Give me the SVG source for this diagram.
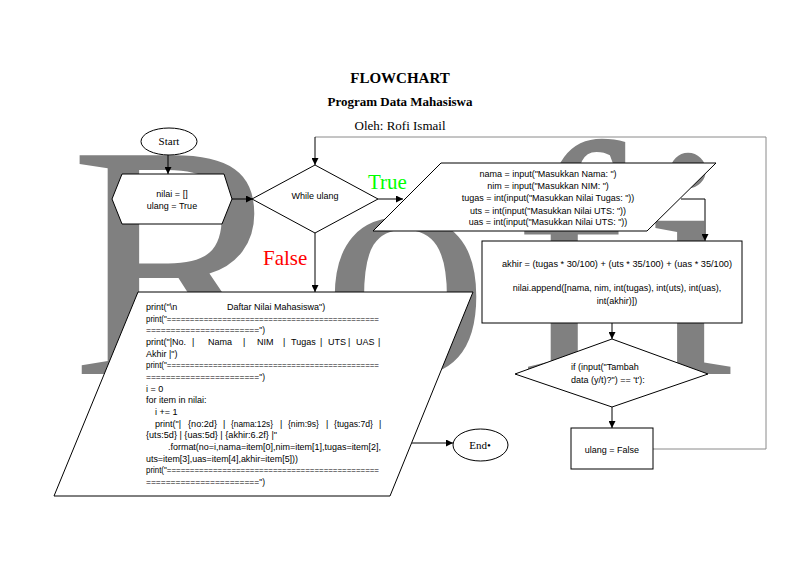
<svg xmlns="http://www.w3.org/2000/svg" width="800" height="566" viewBox="0 0 800 566">
<defs>
<marker id="arr" viewBox="0 0 10 10" refX="10" refY="5" markerWidth="7" markerHeight="7" markerUnits="userSpaceOnUse" orient="auto">
<path d="M0,0 L10,5 L0,10 z" fill="#000"/>
</marker>
<style>
.shape{fill:#fff;stroke:#000;stroke-width:1}
.code{font-family:"Liberation Sans",Arial,sans-serif;font-size:9px;fill:#000}
.mid{text-anchor:middle}
.serif{font-family:"Liberation Serif","Times New Roman",serif;fill:#000}
.conn{fill:none;stroke:#000;stroke-width:1}
.loop{fill:none;stroke:#8a8a8a;stroke-width:1}
</style>
</defs>
<rect width="800" height="566" fill="#fff"/>
<g id="watermark">
<text x="70 322 514 644" y="374" font-family="'Liberation Serif','Times New Roman',serif" font-size="334" fill="#808080">Rofi</text>
</g>
<g id="title">
<text class="serif mid" x="400" y="83" font-size="15" font-weight="bold">FLOWCHART</text>
<text class="serif mid" x="400" y="106" font-size="13" font-weight="bold">Program Data Mahasiswa</text>
<text class="serif mid" x="400" y="130" font-size="13">Oleh: Rofi Ismail</text>
</g>
<g id="connectors">
<path class="conn" d="M168,155 L168,174" marker-end="url(#arr)"/>
<path class="conn" d="M232,199 L253,199" marker-end="url(#arr)"/>
<path class="conn" d="M378,199 L403,199" marker-end="url(#arr)"/>
<path class="conn" d="M315,233 L315,292" marker-end="url(#arr)"/>
<path class="conn" d="M681,199 L705,199 L705,241" marker-end="url(#arr)"/>
<path class="conn" d="M612,323 L612,339" marker-end="url(#arr)"/>
<path class="conn" d="M612,407 L612,428" marker-end="url(#arr)"/>
<path class="conn" d="M412,443 L453,443" marker-end="url(#arr)"/>
<path class="loop" d="M653,449 L766,449 L766,137 L315,137"/>
<path class="conn" d="M315,137 L315,165" marker-end="url(#arr)"/>
<text x="368" y="189" font-family="'Liberation Serif','Times New Roman',serif" font-size="21" fill="#00ff00">True</text>
<text x="263" y="265" font-family="'Liberation Serif','Times New Roman',serif" font-size="21" fill="#ff0000">False</text>
</g>
<g id="start">
<ellipse class="shape" cx="169" cy="141.5" rx="28" ry="13.5"/>
<text class="serif mid" x="169" y="145" font-size="11">Start</text>
</g>
<g id="init">
<polygon class="shape" points="112,199 122,174 224,174 232,199 222,224 122,224"/>
<text class="code mid" x="172" y="197">nilai = []</text>
<text class="code mid" x="172" y="209">ulang = True</text>
</g>
<g id="while">
<polygon class="shape" points="252,199 315,165 378,199 315,233"/>
<text class="code mid" x="315" y="199">While ulang</text>
</g>
<g id="input">
<polygon class="shape" points="441,163 716,163 647,231 373,231"/>
<text class="code mid" x="548" y="177">nama = input("Masukkan Nama: ")</text>
<text class="code mid" x="548" y="189">nim = input("Masukkan NIM: ")</text>
<text class="code mid" x="548" y="201">tugas = int(input("Masukkan Nilai Tugas: "))</text>
<text class="code mid" x="548" y="214">uts = int(input("Masukkan Nilai UTS: "))</text>
<text class="code mid" x="548" y="225">uas = int(input("Masukkan Nilai UTS: "))</text>
</g>
<g id="process">
<rect class="shape" x="482" y="241" width="260" height="82"/>
<text class="code mid" x="617" y="267" textLength="230" lengthAdjust="spacingAndGlyphs">akhir = (tugas * 30/100) + (uts * 35/100) + (uas * 35/100)</text>
<text class="code mid" x="617" y="291">nilai.append([nama, nim, int(tugas), int(uts), int(uas),</text>
<text class="code mid" x="617" y="304">int(akhir)])</text>
</g>
<g id="decision">
<polygon class="shape" points="515,374 612,339 708,374 612,407"/>
<text class="code" x="571" y="370">if (input("Tambah</text>
<text class="code" x="571" y="383">data (y/t)?") == 't'):</text>
</g>
<g id="stop-loop">
<rect class="shape" x="571" y="428" width="82" height="41"/>
<text class="code mid" x="612" y="453">ulang = False</text>
</g>
<g id="output">
<polygon class="shape" points="138,292 473,292 390,496 54,496"/>
<g class="code">
<text x="146" y="310">print("\n</text>
<text x="227" y="310">Daftar Nilai Mahasiswa")</text>
<text x="146" y="321.7" textLength="233" lengthAdjust="spacingAndGlyphs">print("==============================================</text>
<text x="146" y="333.3" textLength="119" lengthAdjust="spacingAndGlyphs">=======================")</text>
<text y="345"><tspan x="146">print("|No.</tspan><tspan x="192">|</tspan><tspan x="208">Nama</tspan><tspan x="243">|</tspan><tspan x="257">NIM</tspan><tspan x="283">|</tspan><tspan x="291">Tugas</tspan><tspan x="320">|</tspan><tspan x="328">UTS</tspan><tspan x="348">|</tspan><tspan x="356">UAS</tspan><tspan x="378">|</tspan></text>
<text x="146" y="356.7">Akhir |")</text>
<text x="146" y="368.3" textLength="233" lengthAdjust="spacingAndGlyphs">print("==============================================</text>
<text x="146" y="380" textLength="119" lengthAdjust="spacingAndGlyphs">=======================")</text>
<text x="146" y="391.7">i = 0</text>
<text x="146" y="403.3">for item in nilai:</text>
<text x="155" y="415">i += 1</text>
<text y="426.7"><tspan x="155">print("|</tspan><tspan x="188" textLength="29" lengthAdjust="spacingAndGlyphs">{no:2d}</tspan><tspan x="223">|</tspan><tspan x="231" textLength="42" lengthAdjust="spacingAndGlyphs">{nama:12s}</tspan><tspan x="280">|</tspan><tspan x="288" textLength="31" lengthAdjust="spacingAndGlyphs">{nim:9s}</tspan><tspan x="326">|</tspan><tspan x="334" textLength="39" lengthAdjust="spacingAndGlyphs">{tugas:7d}</tspan><tspan x="379">|</tspan></text>
<text x="146" y="438.3" textLength="131" lengthAdjust="spacingAndGlyphs">{uts:5d} | {uas:5d} | {akhir:6.2f} |"</text>
<text x="168" y="450" textLength="213" lengthAdjust="spacingAndGlyphs">.format(no=i,nama=item[0],nim=item[1],tugas=item[2],</text>
<text x="146" y="461.7" textLength="152" lengthAdjust="spacingAndGlyphs">uts=item[3],uas=item[4],akhir=item[5]))</text>
<text x="146" y="473.3" textLength="233" lengthAdjust="spacingAndGlyphs">print("==============================================</text>
<text x="146" y="485" textLength="119" lengthAdjust="spacingAndGlyphs">=======================")</text>
</g>
</g>
<g id="end">
<ellipse class="shape" cx="480.5" cy="445" rx="27.5" ry="16"/>
<text class="serif mid" x="480" y="449" font-size="11">End•</text>
</g>
</svg>
